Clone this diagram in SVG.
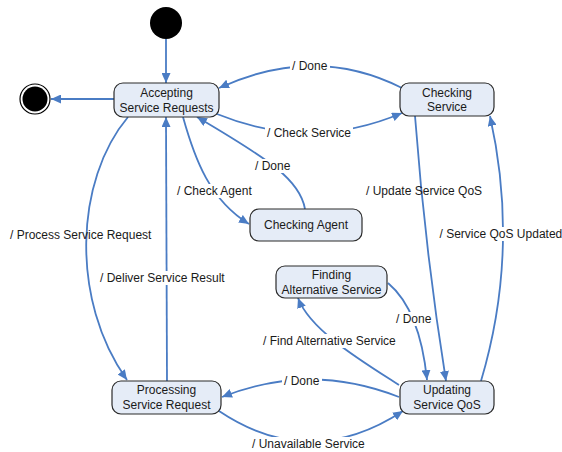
<svg xmlns="http://www.w3.org/2000/svg" width="562" height="452" viewBox="0 0 562 452">
<style>
.node rect{fill:#e5ecf7;stroke:#2b2b2b;stroke-width:1.2}
text{font-family:"Liberation Sans",Arial,sans-serif;font-size:12px;fill:#1a1a1a}
.nt{text-anchor:middle}
.edge{fill:none;stroke:#4a7cc4;stroke-width:1.8;marker-end:url(#arr)}
.bg{fill:#ffffff}
</style>
<defs>
<marker id="arr" markerUnits="userSpaceOnUse" markerWidth="11" markerHeight="9" refX="10" refY="4.5" orient="auto">
<path d="M0,0 L10,4.5 L0,9 z" fill="#4a7cc4"/>
</marker>
</defs>
<g id="connectors">
<path class="edge" d="M166,39 L166,83"/>
<path class="edge" d="M114,99 L51,99"/>
<path class="edge" d="M402,88 Q315,44 219,88"/>
<path class="edge" d="M217,114 Q310,152 402,113"/>
<path class="edge" d="M305,209 C300,180 270,160 197,117"/>
<path class="edge" d="M183,117 C195,160 210,200 249,224"/>
<path class="edge" d="M128,117 C75,180 70,300 127,380"/>
<path class="edge" d="M167,381 L166,117"/>
<path class="edge" d="M415,116 Q425,250 446,381"/>
<path class="edge" d="M481,381 Q520,250 490,116"/>
<path class="edge" d="M388,283 Q420,310 427,380"/>
<path class="edge" d="M399,385 C360,360 310,330 298,298"/>
<path class="edge" d="M399,397 Q310,362 222,397"/>
<path class="edge" d="M219,411 Q310,472 403,411"/>
</g>
<g id="labels">
<rect class="bg" x="290" y="60" width="40" height="13"/><text x="292" y="70">/ Done</text>
<rect class="bg" x="265" y="126" width="88" height="14"/><text x="267" y="137">/ Check Service</text>
<rect class="bg" x="253" y="159" width="39" height="14"/><text x="255" y="170">/ Done</text>
<rect class="bg" x="175" y="184" width="80" height="14"/><text x="177" y="195">/ Check Agent</text>
<text x="10" y="239">/ Process Service Request</text>
<rect class="bg" x="98" y="271" width="130" height="14"/><text x="100" y="282">/ Deliver Service Result</text>
<text x="366" y="195">/ Update Service QoS</text>
<rect class="bg" x="438" y="227" width="124" height="14"/><text x="439.5" y="238">/ Service QoS Updated</text>
<rect class="bg" x="394" y="312" width="40" height="14"/><text x="396" y="323">/ Done</text>
<rect class="bg" x="261" y="334" width="137" height="14"/><text x="263" y="345">/ Find Alternative Service</text>
<rect class="bg" x="282" y="374" width="40" height="14"/><text x="284" y="385">/ Done</text>
<rect class="bg" x="250" y="437" width="116" height="14"/><text x="252" y="448">/ Unavailable Service</text>
</g>
<g id="initial"><circle cx="166" cy="23" r="16" fill="#000"/></g>
<g id="final"><circle cx="35" cy="99" r="15" fill="#fff" stroke="#000" stroke-width="1.2"/><circle cx="35" cy="99" r="12.5" fill="#000"/></g>
<g id="accepting" class="node"><rect x="114" y="83" width="105" height="34" rx="9"/><text class="nt" x="166.5" y="97">Accepting</text><text class="nt" x="166.5" y="112">Service Requests</text></g>
<g id="checkingService" class="node"><rect x="400" y="83" width="94" height="33" rx="9"/><text class="nt" x="447" y="97">Checking</text><text class="nt" x="447" y="111">Service</text></g>
<g id="checkingAgent" class="node"><rect x="250" y="209" width="112" height="32" rx="9"/><text class="nt" x="306" y="229">Checking Agent</text></g>
<g id="finding" class="node"><rect x="276" y="266" width="111" height="32" rx="9"/><text class="nt" x="331.5" y="279">Finding</text><text class="nt" x="331.5" y="294">Alternative Service</text></g>
<g id="processing" class="node"><rect x="112" y="381" width="109" height="33" rx="9"/><text class="nt" x="166.5" y="394">Processing</text><text class="nt" x="166.5" y="409">Service Request</text></g>
<g id="updating" class="node"><rect x="400" y="381" width="94" height="33" rx="9"/><text class="nt" x="447" y="394">Updating</text><text class="nt" x="447" y="409">Service QoS</text></g>
</svg>
